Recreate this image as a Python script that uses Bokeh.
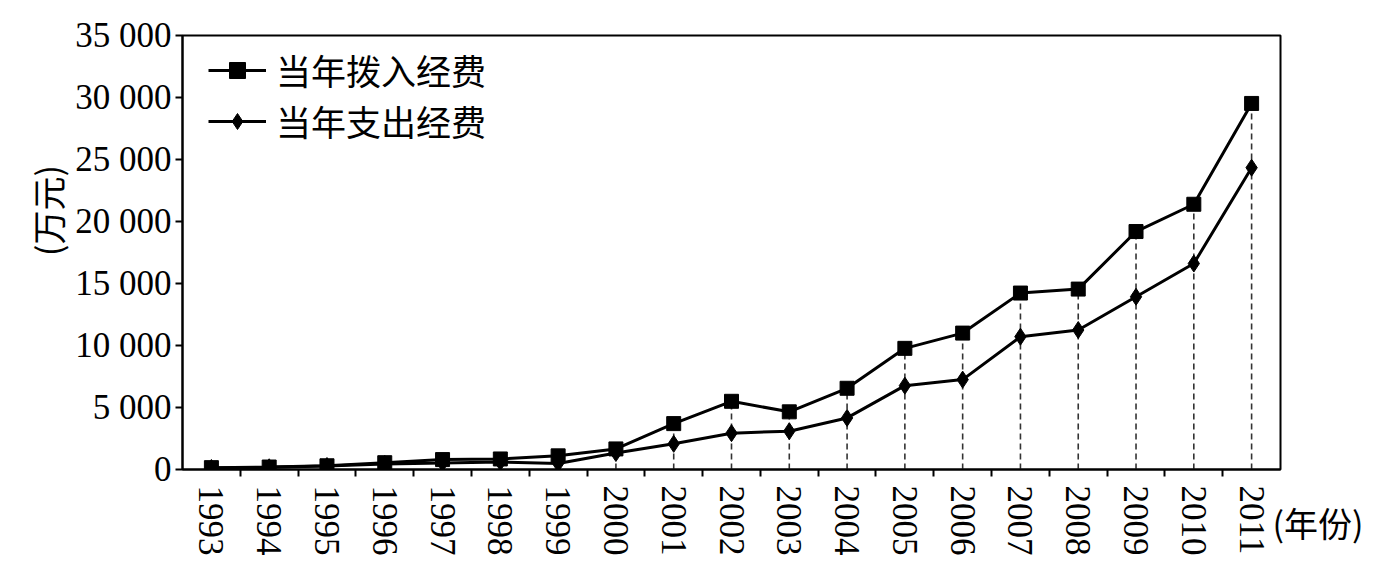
import math
from bokeh.plotting import figure
from bokeh.models import (Range1d, FixedTicker, Label, Legend, LegendItem)
from bokeh.embed import file_html
from bokeh.resources import INLINE

years = list(range(1993, 2012))
year_labels = [str(y) for y in years]
# 当年拨入经费 (万元)
allocated = [150, 200, 300, 550, 800, 850, 1100, 1660, 3700, 5500, 4650,
             6550, 9770, 11000, 14230, 14550, 19190, 21390, 29520]
# 当年支出经费 (万元)
spent = [120, 180, 280, 450, 520, 600, 480, 1330, 2070, 2930, 3090,
         4160, 6760, 7250, 10710, 11250, 13930, 16610, 24340]

y_ticks = [0, 5000, 10000, 15000, 20000, 25000, 30000, 35000]
y_tick_labels = ["0", "5 000", "10 000", "15 000", "20 000", "25 000", "30 000", "35 000"]

series_names = ["当年拨入经费", "当年支出经费"]
x_unit = "(年份)"
y_unit = "(万元)"

SERIF = "Liberation Serif"
CJK = "Noto Sans CJK SC"

p = figure(frame_width=1098, frame_height=434,
           min_border_left=182, min_border_top=35,
           min_border_right=100, min_border_bottom=99,
           x_range=Range1d(years[0] - 0.5, years[-1] + 0.5),
           y_range=Range1d(0, 35000),
           output_backend="svg", toolbar_location=None,
           background_fill_color="white", border_fill_color="white")

p.xgrid.visible = False
p.ygrid.visible = False
p.outline_line_color = "black"
p.outline_line_width = 2

# dashed drop lines
p.segment(x0=years, y0=[0] * len(years), x1=years, y1=allocated,
          line_color="#333333", line_width=1.6, line_dash="6 4")

l1 = p.line(years, allocated, line_color="black", line_width=3)
m1 = p.scatter(years, allocated, marker="square", size=14,
               fill_color="black", line_color="black")
l2 = p.line(years, spent, line_color="black", line_width=3)
m2 = p.scatter(years, spent, marker="diamond", size=17,
               fill_color="black", line_color="black")

# x axis
xa = p.xaxis[0]
xa.ticker = FixedTicker(ticks=years, minor_ticks=[y + 0.5 for y in years[:-1]])
xa.major_label_overrides = {y: s for y, s in zip(years, year_labels)}
xa.major_label_orientation = "vertical"
xa.major_tick_out = 0
xa.major_tick_in = 0
xa.minor_tick_out = 7
xa.minor_tick_in = 0
xa.minor_tick_line_color = "black"
xa.minor_tick_line_width = 2
xa.axis_line_width = 2
xa.axis_line_color = "black"
xa.major_label_text_font = SERIF
xa.major_label_text_font_size = "35px"
xa.major_label_text_color = "black"
xa.major_label_standoff = 9

# y axis
ya = p.yaxis[0]
ya.ticker = FixedTicker(ticks=y_ticks, minor_ticks=[])
ya.major_label_overrides = {t: s for t, s in zip(y_ticks, y_tick_labels)}
ya.major_tick_out = 7
ya.major_tick_in = 0
ya.major_tick_line_width = 2
ya.major_tick_line_color = "black"
ya.axis_line_width = 2
ya.axis_line_color = "black"
ya.major_label_text_font = SERIF
ya.major_label_text_font_size = "35px"
ya.major_label_text_color = "black"
ya.major_label_standoff = 4

# unit labels, placed in side panels so they are not clipped to the frame
p.add_layout(Label(x=years[-1] + 0.36, y=-4270, text=x_unit,
                   text_font=CJK, text_font_size="34px",
                   text_color="black", text_align="left",
                   text_baseline="middle"), "below")
p.add_layout(Label(x=years[0] - 0.5 - 2.336, y=20890, text=y_unit,
                   text_font=CJK, text_font_size="34px",
                   text_color="black", text_align="center",
                   text_baseline="middle", angle=math.pi / 2), "left")

legend = Legend(items=[LegendItem(label=series_names[0], renderers=[l1, m1]),
                       LegendItem(label=series_names[1], renderers=[l2, m2])],
                location=(26, 323), margin=0, padding=0,
                glyph_width=58, glyph_height=40, label_height=40,
                spacing=-6, label_standoff=10,
                label_text_font=CJK, label_text_font_size="35px",
                label_text_color="black",
                border_line_alpha=0, background_fill_alpha=0)
p.add_layout(legend)

open("out.html", "w").write(file_html(p, INLINE))
